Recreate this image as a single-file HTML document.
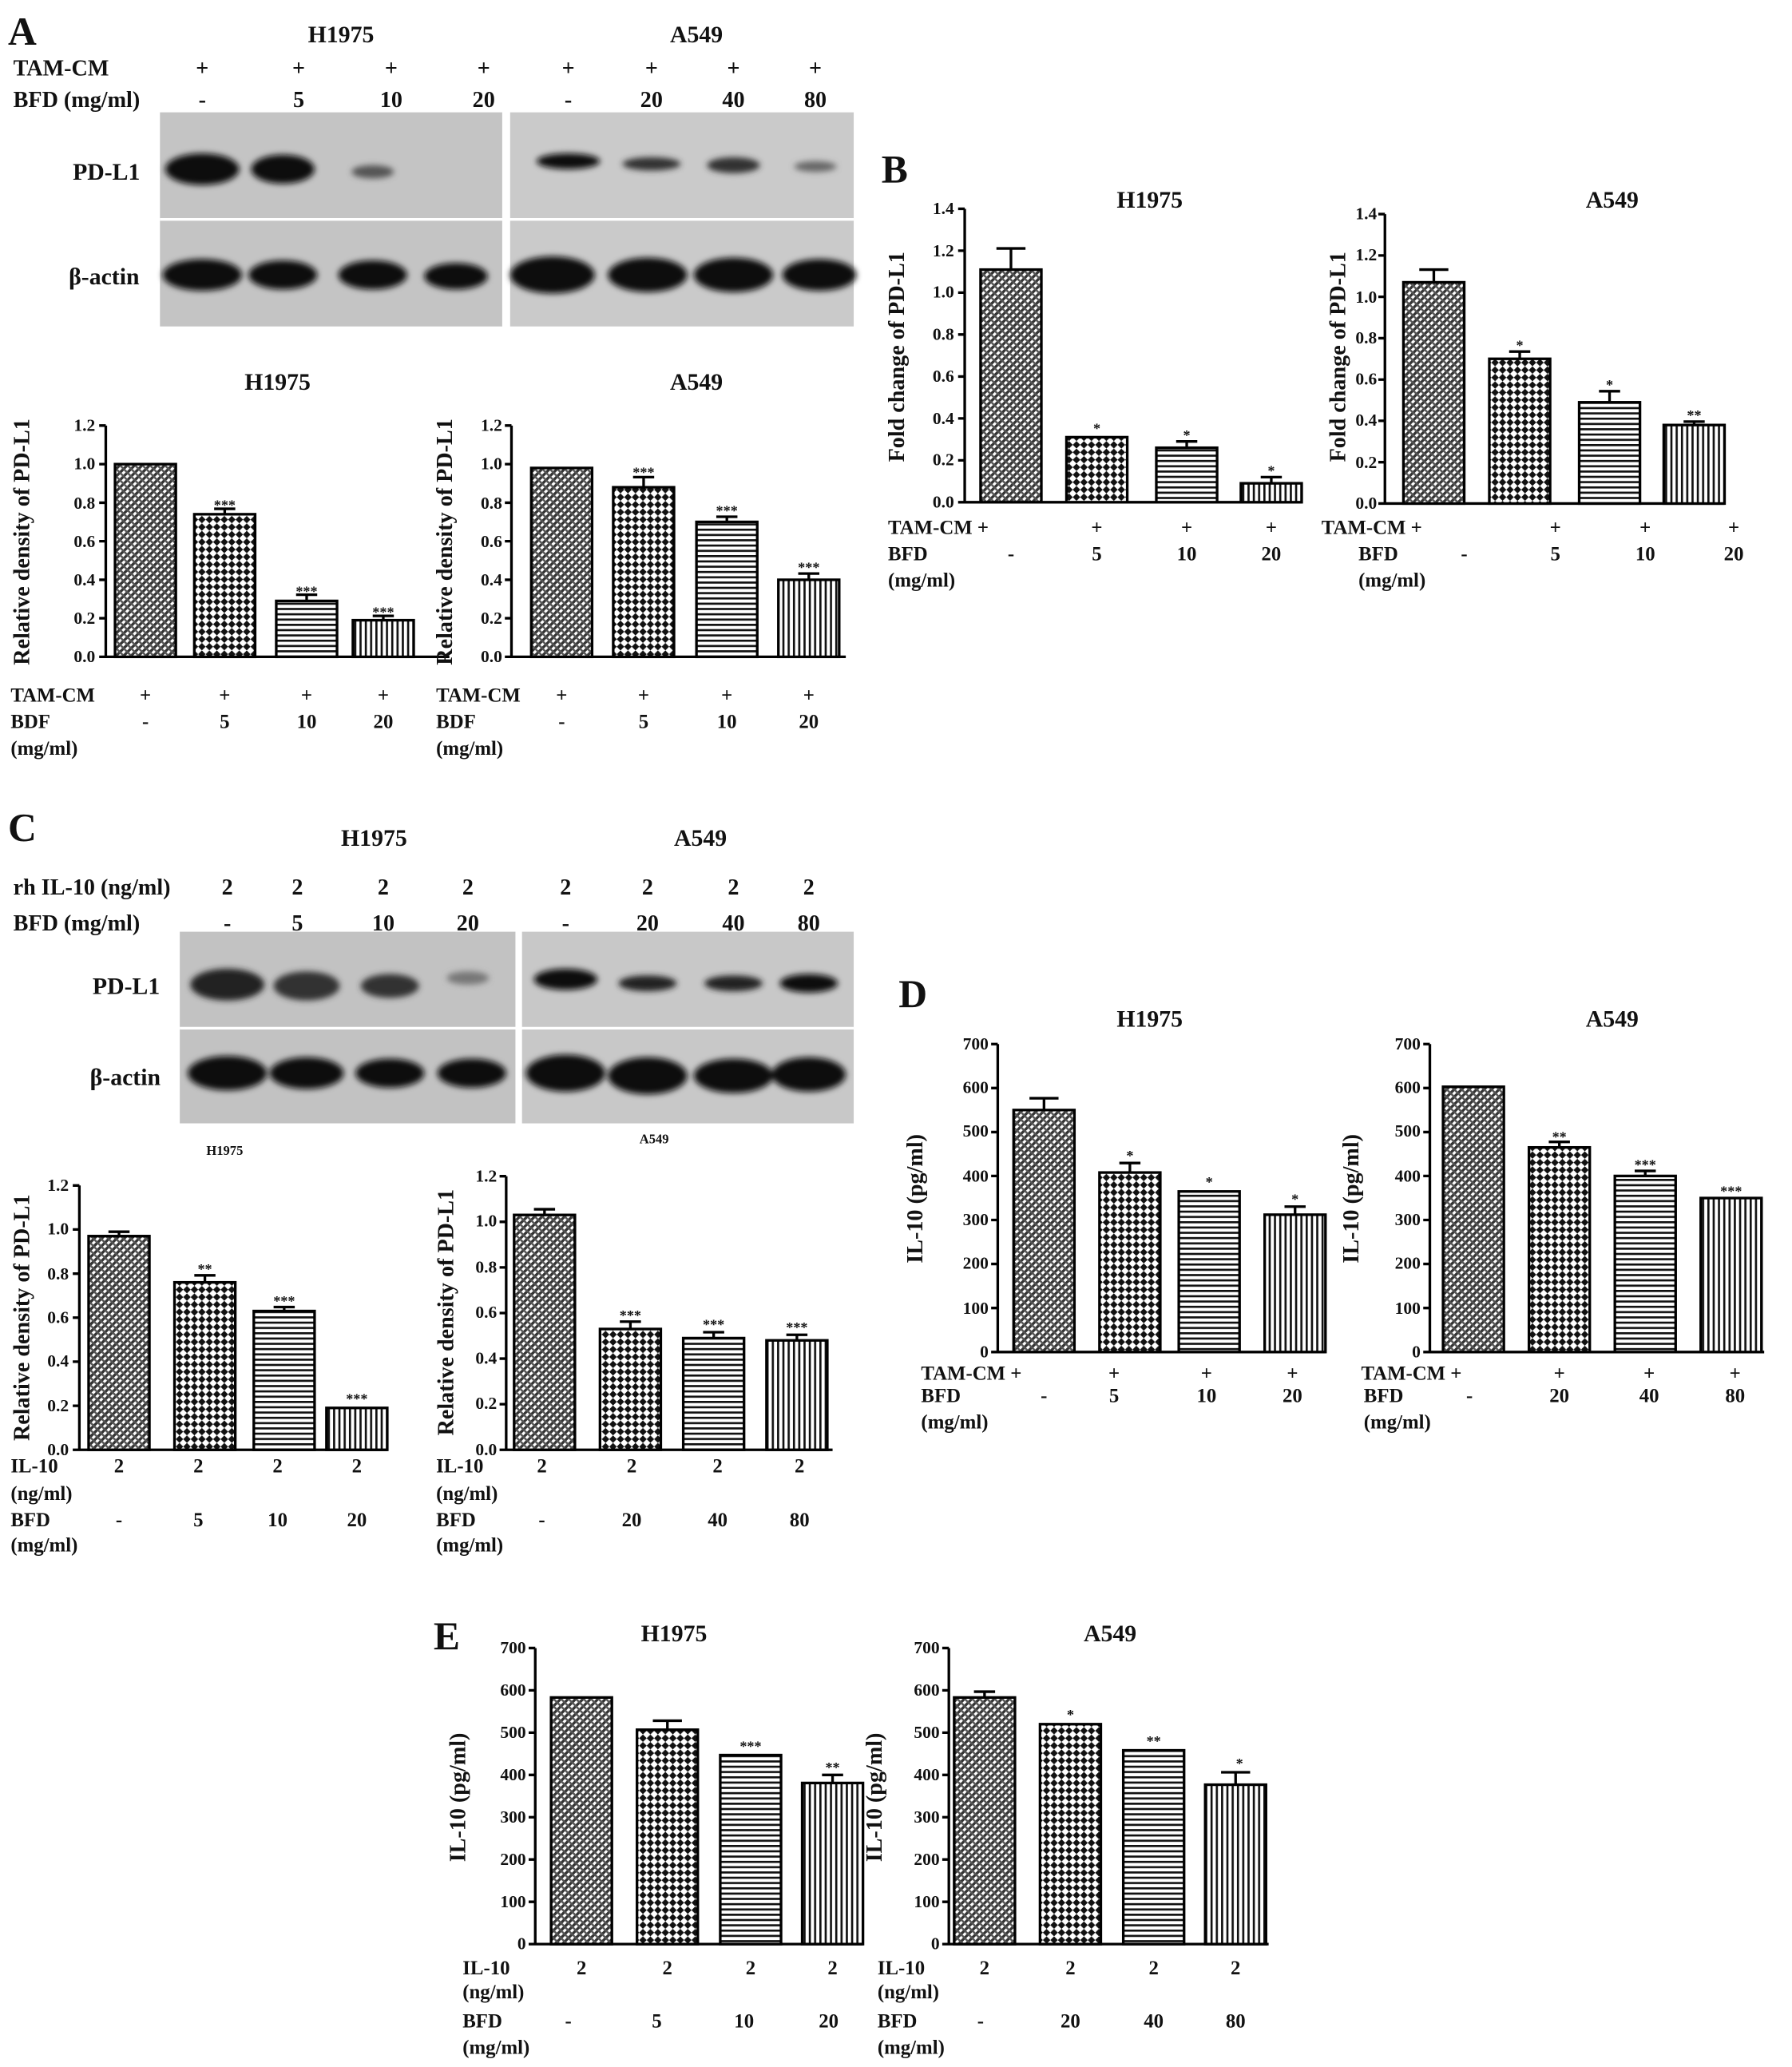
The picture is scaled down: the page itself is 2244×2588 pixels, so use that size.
<!DOCTYPE html>
<html><head><meta charset="utf-8"><style>
html,body{margin:0;padding:0;background:#fff}
svg{display:block}
text{font-family:"Liberation Serif",serif;fill:#111}
</style></head><body>
<svg width="2244" height="2588" viewBox="0 0 1356 1564" xmlns="http://www.w3.org/2000/svg">
<defs>
<pattern id="p1" width="4" height="4" patternUnits="userSpaceOnUse" patternTransform="rotate(45)"><rect width="4" height="4" fill="#fff"/><rect width="2" height="4" fill="#333"/><rect width="4" height="1.5" fill="#555"/></pattern>
<pattern id="p2" width="8" height="8" patternUnits="userSpaceOnUse" patternTransform="rotate(45)"><rect width="8" height="8" fill="#fff"/><rect width="4" height="4" fill="#111"/><rect x="4" y="4" width="4" height="4" fill="#111"/></pattern>
<pattern id="p3" width="4" height="4" patternUnits="userSpaceOnUse"><rect width="4" height="4" fill="#fff"/><rect width="4" height="1.6" fill="#111"/></pattern>
<pattern id="p4" width="4" height="4" patternUnits="userSpaceOnUse"><rect width="4" height="4" fill="#fff"/><rect width="1.6" height="4" fill="#111"/></pattern>
<filter id="bl"><feGaussianBlur stdDeviation="2.2"/></filter>
</defs>
<g font-weight="bold">

<!-- ============ PANEL A ============ -->
<text x="6" y="34" font-size="30">A</text>
<text x="258" y="32" font-size="18" text-anchor="middle">H1975</text>
<text x="527" y="32" font-size="18" text-anchor="middle">A549</text>
<g font-size="17" text-anchor="middle">
<text x="10" y="57" text-anchor="start">TAM-CM</text>
<text x="10" y="81" text-anchor="start">BFD  (mg/ml)</text>
<text x="153" y="57">+</text><text x="226" y="57">+</text><text x="296" y="57">+</text><text x="366" y="57">+</text>
<text x="430" y="57">+</text><text x="493" y="57">+</text><text x="555" y="57">+</text><text x="617" y="57">+</text>
<text x="153" y="81">-</text><text x="226" y="81">5</text><text x="296" y="81">10</text><text x="366" y="81">20</text>
<text x="430" y="81">-</text><text x="493" y="81">20</text><text x="555" y="81">40</text><text x="617" y="81">80</text>
</g>
<rect x="121" y="85" width="259" height="162" fill="#c4c4c4"/>
<rect x="386" y="85" width="260" height="162" fill="#cacaca"/>
<line x1="121" y1="166" x2="646" y2="166" stroke="#fff" stroke-width="2"/>
<g filter="url(#bl)" fill="#111">
<ellipse cx="153" cy="128" rx="28" ry="12"/><ellipse cx="214" cy="128" rx="24" ry="11"/><ellipse cx="282" cy="130" rx="16" ry="5" fill="#555"/>
<ellipse cx="430" cy="122" rx="24" ry="6"/><ellipse cx="493" cy="124" rx="22" ry="5" fill="#333"/><ellipse cx="555" cy="125" rx="20" ry="6" fill="#333"/><ellipse cx="617" cy="126" rx="16" ry="4" fill="#666"/>
<ellipse cx="153" cy="208" rx="30" ry="12"/><ellipse cx="214" cy="208" rx="26" ry="11"/><ellipse cx="282" cy="208" rx="26" ry="11"/><ellipse cx="345" cy="209" rx="24" ry="10"/>
<ellipse cx="418" cy="208" rx="32" ry="14"/><ellipse cx="490" cy="208" rx="30" ry="13"/><ellipse cx="555" cy="208" rx="30" ry="13"/><ellipse cx="620" cy="208" rx="28" ry="12"/>
</g>
<text x="55" y="136" font-size="18">PD-L1</text>
<text x="52" y="215" font-size="18">β-actin</text>

<!-- A lower H1975 -->
<text x="210" y="295" font-size="18" text-anchor="middle">H1975</text>
<text transform="translate(22,410) rotate(-90)" font-size="17" text-anchor="middle">Relative density of PD-L1</text>
<g font-size="13" text-anchor="end">
<text x="72" y="501">0.0</text><text x="72" y="472">0.2</text><text x="72" y="443">0.4</text><text x="72" y="414">0.6</text><text x="72" y="385">0.8</text><text x="72" y="355">1.0</text><text x="72" y="326">1.2</text>
</g>
<g stroke="#000" stroke-width="2" fill="none">
<path d="M80,322V497H340M75,497H80M75,467.8H80M75,438.7H80M75,409.5H80M75,380.4H80M75,351.2H80M75,322H80"/>
<rect x="87" y="351.2" width="46" height="145.8" fill="url(#p1)"/>
<rect x="147" y="389.1" width="46" height="107.9" fill="url(#p2)"/>
<rect x="209" y="454.7" width="46" height="42.3" fill="url(#p3)"/>
<rect x="267" y="469.3" width="46" height="27.7" fill="url(#p4)"/>
<path d="M170,389V385M162,385H178M232,454V450M224,450H240M290,469V466M282,466H298"/>
</g>
<g font-size="11" fill="#666" text-anchor="middle"><text x="170" y="386" fill="#666">***</text><text x="232" y="451" fill="#666">***</text><text x="290" y="467" fill="#666">***</text></g>

<!-- A lower A549 -->
<text x="527" y="295" font-size="18" text-anchor="middle">A549</text>
<text transform="translate(342,410) rotate(-90)" font-size="17" text-anchor="middle">Relative density of PD-L1</text>
<g font-size="13" text-anchor="end">
<text x="380" y="501">0.0</text><text x="380" y="472">0.2</text><text x="380" y="443">0.4</text><text x="380" y="414">0.6</text><text x="380" y="385">0.8</text><text x="380" y="355">1.0</text><text x="380" y="326">1.2</text>
</g>
<g stroke="#000" stroke-width="2" fill="none">
<path d="M387,322V497H640M382,497H387M382,467.8H387M382,438.7H387M382,409.5H387M382,380.4H387M382,351.2H387M382,322H387"/>
<rect x="402" y="354.1" width="46" height="142.9" fill="url(#p1)"/>
<rect x="464" y="368.7" width="46" height="128.3" fill="url(#p2)"/>
<rect x="527" y="394.9" width="46" height="102.1" fill="url(#p3)"/>
<rect x="589" y="438.7" width="46" height="58.3" fill="url(#p4)"/>
<path d="M487,368V361M479,361H495M550,394V391M542,391H558M612,438V434M604,434H620"/>
</g>
<g font-size="11" text-anchor="middle"><text x="487" y="361" fill="#666">***</text><text x="550" y="390" fill="#666">***</text><text x="612" y="433" fill="#666">***</text></g>

<g font-size="15" text-anchor="middle">
<text x="8" y="531" text-anchor="start">TAM-CM</text><text x="8" y="551" text-anchor="start">BDF</text><text x="8" y="571" text-anchor="start">(mg/ml)</text>
<text x="110" y="531">+</text><text x="170" y="531">+</text><text x="232" y="531">+</text><text x="290" y="531">+</text>
<text x="110" y="551">-</text><text x="170" y="551">5</text><text x="232" y="551">10</text><text x="290" y="551">20</text>
<text x="330" y="531" text-anchor="start">TAM-CM</text><text x="330" y="551" text-anchor="start">BDF</text><text x="330" y="571" text-anchor="start">(mg/ml)</text>
<text x="425" y="531">+</text><text x="487" y="531">+</text><text x="550" y="531">+</text><text x="612" y="531">+</text>
<text x="425" y="551">-</text><text x="487" y="551">5</text><text x="550" y="551">10</text><text x="612" y="551">20</text>
</g>

<!-- ============ PANEL B ============ -->
<text x="667" y="138" font-size="30">B</text>
<text x="870" y="157" font-size="18" text-anchor="middle">H1975</text>
<text transform="translate(684,270) rotate(-90)" font-size="17" text-anchor="middle">Fold change of PD-L1</text>
<g font-size="13" text-anchor="end">
<text x="722" y="384">0.0</text><text x="722" y="352">0.2</text><text x="722" y="321">0.4</text><text x="722" y="289">0.6</text><text x="722" y="257">0.8</text><text x="722" y="225">1.0</text><text x="722" y="194">1.2</text><text x="722" y="162">1.4</text>
</g>
<g stroke="#000" stroke-width="2" fill="none">
<path d="M730,158V380H985M725,380H730M725,348.3H730M725,316.6H730M725,284.9H730M725,253.1H730M725,221.4H730M725,189.7H730M725,158H730"/>
<rect x="742" y="204" width="46" height="176" fill="url(#p1)"/>
<rect x="807" y="330.8" width="46" height="49.2" fill="url(#p2)"/>
<rect x="875" y="338.8" width="46" height="41.2" fill="url(#p3)"/>
<rect x="939" y="365.7" width="46" height="14.3" fill="url(#p4)"/>
<path d="M765,204V188M754,188H776M898,338V334M890,334H906M962,365V361M954,361H970"/>
</g>
<g font-size="11" text-anchor="middle"><text x="830" y="328" fill="#666">*</text><text x="898" y="333" fill="#666">*</text><text x="962" y="360" fill="#666">*</text></g>

<text x="1220" y="157" font-size="18" text-anchor="middle">A549</text>
<text transform="translate(1018,270) rotate(-90)" font-size="17" text-anchor="middle">Fold change of PD-L1</text>
<g font-size="13" text-anchor="end">
<text x="1042" y="385">0.0</text><text x="1042" y="354">0.2</text><text x="1042" y="322">0.4</text><text x="1042" y="291">0.6</text><text x="1042" y="260">0.8</text><text x="1042" y="229">1.0</text><text x="1042" y="197">1.2</text><text x="1042" y="166">1.4</text>
</g>
<g stroke="#000" stroke-width="2" fill="none">
<path d="M1048,162V381H1305M1043,381H1048M1043,349.7H1048M1043,318.4H1048M1043,287.2H1048M1043,255.9H1048M1043,224.6H1048M1043,193.3H1048M1043,162H1048"/>
<rect x="1062" y="213.6" width="46" height="167.4" fill="url(#p1)"/>
<rect x="1127" y="271.5" width="46" height="109.5" fill="url(#p2)"/>
<rect x="1195" y="304.4" width="46" height="76.6" fill="url(#p3)"/>
<rect x="1259" y="321.6" width="46" height="59.4" fill="url(#p4)"/>
<path d="M1085,213V204M1074,204H1096M1150,271V266M1142,266H1158M1218,304V296M1210,296H1226M1282,321V319M1274,319H1290"/>
</g>
<g font-size="11" text-anchor="middle"><text x="1150" y="265" fill="#666">*</text><text x="1218" y="295" fill="#666">*</text><text x="1282" y="318" fill="#666">**</text></g>

<g font-size="15" text-anchor="middle">
<text x="672" y="404" text-anchor="start">TAM-CM +</text><text x="672" y="424" text-anchor="start">BFD</text><text x="672" y="444" text-anchor="start">(mg/ml)</text>
<text x="765" y="424">-</text>
<text x="830" y="404">+</text><text x="898" y="404">+</text><text x="962" y="404">+</text>
<text x="830" y="424">5</text><text x="898" y="424">10</text><text x="962" y="424">20</text>
<text x="1000" y="404" text-anchor="start">TAM-CM +</text><text x="1028" y="424" text-anchor="start">BFD</text><text x="1028" y="444" text-anchor="start">(mg/ml)</text>
<text x="1108" y="424">-</text>
<text x="1177" y="404">+</text><text x="1245" y="404">+</text><text x="1312" y="404">+</text>
<text x="1177" y="424">5</text><text x="1245" y="424">10</text><text x="1312" y="424">20</text>
</g>

<!-- ============ PANEL C ============ -->
<text x="6" y="636" font-size="30">C</text>
<text x="283" y="640" font-size="18" text-anchor="middle">H1975</text>
<text x="530" y="640" font-size="18" text-anchor="middle">A549</text>
<g font-size="17" text-anchor="middle">
<text x="10" y="677" text-anchor="start">rh IL-10 (ng/ml)</text>
<text x="10" y="704" text-anchor="start">BFD (mg/ml)</text>
<text x="172" y="677">2</text><text x="225" y="677">2</text><text x="290" y="677">2</text><text x="354" y="677">2</text>
<text x="428" y="677">2</text><text x="490" y="677">2</text><text x="555" y="677">2</text><text x="612" y="677">2</text>
<text x="172" y="704">-</text><text x="225" y="704">5</text><text x="290" y="704">10</text><text x="354" y="704">20</text>
<text x="428" y="704">-</text><text x="490" y="704">20</text><text x="555" y="704">40</text><text x="612" y="704">80</text>
</g>
<rect x="136" y="705" width="254" height="145" fill="#c2c2c2"/>
<rect x="395" y="705" width="251" height="145" fill="#c8c8c8"/>
<line x1="136" y1="778" x2="646" y2="778" stroke="#fff" stroke-width="2"/>
<g filter="url(#bl)" fill="#111">
<ellipse cx="172" cy="745" rx="28" ry="12" fill="#222"/><ellipse cx="232" cy="746" rx="25" ry="11" fill="#333"/><ellipse cx="295" cy="746" rx="22" ry="9" fill="#333"/><ellipse cx="354" cy="740" rx="16" ry="5" fill="#777"/>
<ellipse cx="428" cy="741" rx="24" ry="8"/><ellipse cx="490" cy="744" rx="22" ry="6" fill="#222"/><ellipse cx="555" cy="744" rx="22" ry="6" fill="#222"/><ellipse cx="612" cy="744" rx="22" ry="7"/>
<ellipse cx="172" cy="812" rx="30" ry="13"/><ellipse cx="232" cy="812" rx="28" ry="12"/><ellipse cx="295" cy="812" rx="26" ry="11"/><ellipse cx="357" cy="812" rx="26" ry="11"/>
<ellipse cx="428" cy="812" rx="30" ry="14"/><ellipse cx="490" cy="814" rx="30" ry="14"/><ellipse cx="555" cy="814" rx="30" ry="13"/><ellipse cx="612" cy="813" rx="28" ry="13"/>
</g>
<text x="70" y="752" font-size="18">PD-L1</text>
<text x="68" y="821" font-size="18">β-actin</text>

<text x="170" y="874" font-size="10" text-anchor="middle">H1975</text>
<text x="495" y="865" font-size="10" text-anchor="middle">A549</text>
<text transform="translate(22,997) rotate(-90)" font-size="17" text-anchor="middle">Relative density of PD-L1</text>
<g font-size="13" text-anchor="end">
<text x="52" y="1101">0.0</text><text x="52" y="1068">0.2</text><text x="52" y="1034">0.4</text><text x="52" y="1001">0.6</text><text x="52" y="968">0.8</text><text x="52" y="934">1.0</text><text x="52" y="901">1.2</text>
</g>
<g stroke="#000" stroke-width="2" fill="none">
<path d="M60,897V1097H293M55,1097H60M55,1063.7H60M55,1030.3H60M55,997H60M55,963.7H60M55,930.3H60M55,897H60"/>
<rect x="67" y="935.3" width="46" height="161.7" fill="url(#p1)"/>
<rect x="132" y="970.3" width="46" height="126.7" fill="url(#p2)"/>
<rect x="192" y="992" width="46" height="105" fill="url(#p3)"/>
<rect x="247" y="1065.3" width="46" height="31.7" fill="url(#p4)"/>
<path d="M90,935V932M82,932H98M155,970V965M147,965H163M215,992V989M207,989H223"/>
</g>
<g font-size="11" text-anchor="middle"><text x="155" y="964" fill="#666">**</text><text x="215" y="988" fill="#666">***</text><text x="270" y="1062" fill="#666">***</text></g>

<text transform="translate(343,993) rotate(-90)" font-size="17" text-anchor="middle">Relative density of PD-L1</text>
<g font-size="13" text-anchor="end">
<text x="376" y="1101">0.0</text><text x="376" y="1066">0.2</text><text x="376" y="1032">0.4</text><text x="376" y="997">0.6</text><text x="376" y="963">0.8</text><text x="376" y="928">1.0</text><text x="376" y="894">1.2</text>
</g>
<g stroke="#000" stroke-width="2" fill="none">
<path d="M383,890V1097H630M378,1097H383M378,1062.5H383M378,1028H383M378,993.5H383M378,959H383M378,924.5H383M378,890H383"/>
<rect x="389" y="919.3" width="46" height="177.7" fill="url(#p1)"/>
<rect x="454" y="1005.6" width="46" height="91.4" fill="url(#p2)"/>
<rect x="517" y="1012.5" width="46" height="84.5" fill="url(#p3)"/>
<rect x="580" y="1014.2" width="46" height="82.8" fill="url(#p4)"/>
<path d="M412,919V915M404,915H420M477,1005V1000M469,1000H485M540,1012V1008M532,1008H548M603,1014V1010M595,1010H611"/>
</g>
<g font-size="11" text-anchor="middle"><text x="477" y="999" fill="#666">***</text><text x="540" y="1006" fill="#666">***</text><text x="603" y="1008" fill="#666">***</text></g>

<g font-size="15" text-anchor="middle">
<text x="8" y="1114" text-anchor="start">IL-10</text><text x="8" y="1135" text-anchor="start">(ng/ml)</text><text x="8" y="1155" text-anchor="start">BFD</text><text x="8" y="1174" text-anchor="start">(mg/ml)</text>
<text x="90" y="1114">2</text><text x="150" y="1114">2</text><text x="210" y="1114">2</text><text x="270" y="1114">2</text>
<text x="90" y="1155">-</text><text x="150" y="1155">5</text><text x="210" y="1155">10</text><text x="270" y="1155">20</text>
<text x="330" y="1114" text-anchor="start">IL-10</text><text x="330" y="1135" text-anchor="start">(ng/ml)</text><text x="330" y="1155" text-anchor="start">BFD</text><text x="330" y="1174" text-anchor="start">(mg/ml)</text>
<text x="410" y="1114">2</text><text x="478" y="1114">2</text><text x="543" y="1114">2</text><text x="605" y="1114">2</text>
<text x="410" y="1155">-</text><text x="478" y="1155">20</text><text x="543" y="1155">40</text><text x="605" y="1155">80</text>
</g>

<!-- ============ PANEL D ============ -->
<text x="680" y="762" font-size="30">D</text>
<text x="870" y="777" font-size="18" text-anchor="middle">H1975</text>
<text x="1220" y="777" font-size="18" text-anchor="middle">A549</text>
<text transform="translate(698,907) rotate(-90)" font-size="17" text-anchor="middle">IL-10 (pg/ml)</text>
<g font-size="13" text-anchor="end">
<text x="748" y="1027">0</text><text x="748" y="994">100</text><text x="748" y="960">200</text><text x="748" y="927">300</text><text x="748" y="894">400</text><text x="748" y="860">500</text><text x="748" y="827">600</text><text x="748" y="794">700</text>
</g>
<g stroke="#000" stroke-width="2" fill="none">
<path d="M755,790V1023H1003M750,1023H755M750,989.7H755M750,956.4H755M750,923.1H755M750,889.8H755M750,856.6H755M750,823.3H755M750,790H755"/>
<rect x="767" y="839.9" width="46" height="183.1" fill="url(#p1)"/>
<rect x="832" y="887.2" width="46" height="135.8" fill="url(#p2)"/>
<rect x="892" y="901.5" width="46" height="121.5" fill="url(#p3)"/>
<rect x="957" y="919.1" width="46" height="103.9" fill="url(#p4)"/>
<path d="M790,840V831M779,831H801M855,887V880M847,880H863M980,919V913M972,913H988"/>
</g>
<g font-size="11" text-anchor="middle"><text x="855" y="878" fill="#666">*</text><text x="915" y="898" fill="#666">*</text><text x="980" y="911" fill="#666">*</text></g>

<text transform="translate(1028,907) rotate(-90)" font-size="17" text-anchor="middle">IL-10 (pg/ml)</text>
<g font-size="13" text-anchor="end">
<text x="1075" y="1027">0</text><text x="1075" y="994">100</text><text x="1075" y="960">200</text><text x="1075" y="927">300</text><text x="1075" y="894">400</text><text x="1075" y="860">500</text><text x="1075" y="827">600</text><text x="1075" y="794">700</text>
</g>
<g stroke="#000" stroke-width="2" fill="none">
<path d="M1082,790V1023H1335M1077,1023H1082M1077,989.7H1082M1077,956.4H1082M1077,923.1H1082M1077,889.8H1082M1077,856.6H1082M1077,823.3H1082M1077,790H1082"/>
<rect x="1092" y="822.3" width="46" height="200.7" fill="url(#p1)"/>
<rect x="1157" y="868.2" width="46" height="154.8" fill="url(#p2)"/>
<rect x="1222" y="889.8" width="46" height="133.2" fill="url(#p3)"/>
<rect x="1287" y="906.5" width="46" height="116.5" fill="url(#p4)"/>
<path d="M1180,868V864M1172,864H1188M1245,889V886M1237,886H1253"/>
</g>
<g font-size="11" text-anchor="middle"><text x="1180" y="864" fill="#666">**</text><text x="1245" y="885" fill="#666">***</text><text x="1310" y="905" fill="#666">***</text></g>

<g font-size="15" text-anchor="middle">
<text x="697" y="1044" text-anchor="start">TAM-CM +</text><text x="697" y="1061" text-anchor="start">BFD</text><text x="697" y="1081" text-anchor="start">(mg/ml)</text>
<text x="790" y="1061">-</text>
<text x="843" y="1044">+</text><text x="913" y="1044">+</text><text x="978" y="1044">+</text>
<text x="843" y="1061">5</text><text x="913" y="1061">10</text><text x="978" y="1061">20</text>
<text x="1030" y="1044" text-anchor="start">TAM-CM +</text><text x="1032" y="1061" text-anchor="start">BFD</text><text x="1032" y="1081" text-anchor="start">(mg/ml)</text>
<text x="1112" y="1061">-</text>
<text x="1180" y="1044">+</text><text x="1248" y="1044">+</text><text x="1313" y="1044">+</text>
<text x="1180" y="1061">20</text><text x="1248" y="1061">40</text><text x="1313" y="1061">80</text>
</g>

<!-- ============ PANEL E ============ -->
<text x="328" y="1248" font-size="30">E</text>
<text x="510" y="1242" font-size="18" text-anchor="middle">H1975</text>
<text x="840" y="1242" font-size="18" text-anchor="middle">A549</text>
<text transform="translate(352,1360) rotate(-90)" font-size="17" text-anchor="middle">IL-10 (pg/ml)</text>
<g font-size="13" text-anchor="end">
<text x="398" y="1475">0</text><text x="398" y="1443">100</text><text x="398" y="1411">200</text><text x="398" y="1379">300</text><text x="398" y="1347">400</text><text x="398" y="1315">500</text><text x="398" y="1283">600</text><text x="398" y="1251">700</text>
</g>
<g stroke="#000" stroke-width="2" fill="none">
<path d="M405,1247V1471H653M400,1471H405M400,1439H405M400,1407H405M400,1375H405M400,1343H405M400,1311H405M400,1279H405M400,1247H405"/>
<rect x="417" y="1284.4" width="46" height="186.6" fill="url(#p1)"/>
<rect x="482" y="1308.8" width="46" height="162.2" fill="url(#p2)"/>
<rect x="545" y="1328" width="46" height="143" fill="url(#p3)"/>
<rect x="607" y="1349.1" width="46" height="121.9" fill="url(#p4)"/>
<path d="M505,1308V1302M494,1302H516M630,1349V1343M622,1343H638"/>
</g>
<g font-size="11" text-anchor="middle"><text x="568" y="1325" fill="#666">***</text><text x="630" y="1341" fill="#666">**</text></g>

<text transform="translate(667,1360) rotate(-90)" font-size="17" text-anchor="middle">IL-10 (pg/ml)</text>
<g font-size="13" text-anchor="end">
<text x="711" y="1475">0</text><text x="711" y="1443">100</text><text x="711" y="1411">200</text><text x="711" y="1379">300</text><text x="711" y="1347">400</text><text x="711" y="1315">500</text><text x="711" y="1283">600</text><text x="711" y="1251">700</text>
</g>
<g stroke="#000" stroke-width="2" fill="none">
<path d="M718,1247V1471H960M713,1471H718M713,1439H718M713,1407H718M713,1375H718M713,1343H718M713,1311H718M713,1279H718M713,1247H718"/>
<rect x="722" y="1284.4" width="46" height="186.6" fill="url(#p1)"/>
<rect x="787" y="1304.6" width="46" height="166.4" fill="url(#p2)"/>
<rect x="850" y="1324.4" width="46" height="146.6" fill="url(#p3)"/>
<rect x="912" y="1350.4" width="46" height="120.6" fill="url(#p4)"/>
<path d="M745,1284V1280M737,1280H753M935,1350V1341M924,1341H946"/>
</g>
<g font-size="11" text-anchor="middle"><text x="810" y="1301" fill="#666">*</text><text x="873" y="1321" fill="#666">**</text><text x="938" y="1338" fill="#666">*</text></g>

<g font-size="15" text-anchor="middle">
<text x="350" y="1494" text-anchor="start">IL-10</text><text x="350" y="1512" text-anchor="start">(ng/ml)</text><text x="350" y="1534" text-anchor="start">BFD</text><text x="350" y="1554" text-anchor="start">(mg/ml)</text>
<text x="440" y="1494">2</text><text x="505" y="1494">2</text><text x="568" y="1494">2</text><text x="630" y="1494">2</text>
<text x="430" y="1534">-</text><text x="497" y="1534">5</text><text x="563" y="1534">10</text><text x="627" y="1534">20</text>
<text x="664" y="1494" text-anchor="start">IL-10</text><text x="664" y="1512" text-anchor="start">(ng/ml)</text><text x="664" y="1534" text-anchor="start">BFD</text><text x="664" y="1554" text-anchor="start">(mg/ml)</text>
<text x="745" y="1494">2</text><text x="810" y="1494">2</text><text x="873" y="1494">2</text><text x="935" y="1494">2</text>
<text x="742" y="1534">-</text><text x="810" y="1534">20</text><text x="873" y="1534">40</text><text x="935" y="1534">80</text>
</g>
</g>
</svg>
</body></html>
